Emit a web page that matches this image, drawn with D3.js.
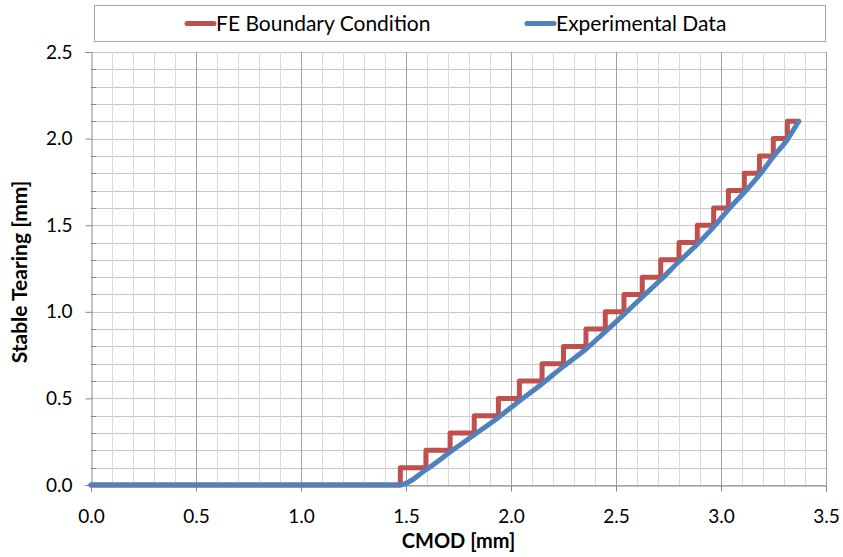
<!DOCTYPE html>
<html><head><meta charset="utf-8">
<script src="https://cdn.jsdelivr.net/npm/d3@7"></script>
<style>body{margin:0;background:#fff}svg{display:block}</style>
</head><body><svg id="c" width="843" height="557"></svg>
<script>
// Data
const seriesNames = ["FE Boundary Condition", "Experimental Data"];
// FE boundary condition: x positions of each 0.1 mm step
const feStepX = [1.473, 1.595, 1.71, 1.825, 1.94, 2.04, 2.148, 2.25, 2.357, 2.449, 2.538, 2.625, 2.713, 2.80, 2.887, 2.965, 3.035, 3.111, 3.183, 3.249, 3.316];
const feStepSize = 0.1;
const feEndX = 3.37;
// Experimental data
const expX = [0, 1.47, 1.595, 1.71, 1.825, 1.94, 2.04, 2.148, 2.25, 2.357, 2.449, 2.538, 2.625, 2.713, 2.80, 2.887, 2.965, 3.035, 3.111, 3.183, 3.249, 3.316, 3.37];
const expY = [0, 0, 0.088, 0.19, 0.29, 0.39, 0.485, 0.585, 0.685, 0.785, 0.885, 0.985, 1.085, 1.185, 1.29, 1.39, 1.49, 1.59, 1.69, 1.79, 1.895, 1.995, 2.1];
const xTicks = [0, 0.5, 1.0, 1.5, 2.0, 2.5, 3.0, 3.5];
const yTicks = [0, 0.5, 1.0, 1.5, 2.0, 2.5];

const svg = d3.select("#c");
const L = 91, R = 826, T = 52, B = 485;
const x = d3.scaleLinear().domain([0, 3.5]).range([L, R]);
const y = d3.scaleLinear().domain([0, 2.5]).range([B, T]);
const font = "Lato, 'Open Sans', sans-serif";

// grid
const minorX = d3.range(0, 36).map(i => i / 10);
const minorY = d3.range(0, 26).map(i => i / 10);
const g = svg.append("g");
g.selectAll(".hy").data(minorY).join("line")
  .attr("x1", L).attr("x2", R).attr("y1", d => Math.round(y(d)) + 0.5).attr("y2", d => Math.round(y(d)) + 0.5)
  .attr("stroke", "#c6c6c6").attr("stroke-width", 1);
g.selectAll(".vx").data(minorX.filter((d, i) => i % 5 !== 0)).join("line")
  .attr("y1", T).attr("y2", B).attr("x1", d => Math.round(x(d)) + 0.5).attr("x2", d => Math.round(x(d)) + 0.5)
  .attr("stroke", "#d9d9d9").attr("stroke-width", 1);
g.selectAll(".vX").data(xTicks.slice(1)).join("line")
  .attr("y1", T).attr("y2", B).attr("x1", d => Math.round(x(d)) + 0.5).attr("x2", d => Math.round(x(d)) + 0.5)
  .attr("stroke", "#a0a0a0").attr("stroke-width", 1);

// axes
const xAxis = svg.append("g").attr("transform", `translate(0,${Math.round(B) + 0.5})`)
  .call(d3.axisBottom(x).tickValues(xTicks).tickFormat(d3.format(".1f")).tickSize(6).tickPadding(18));
const yAxis = svg.append("g").attr("transform", `translate(${Math.round(L) + 0.5},0)`)
  .call(d3.axisLeft(y).tickValues(yTicks).tickFormat(d3.format(".1f")).tickSize(6).tickPadding(13));
[xAxis, yAxis].forEach(a => {
  a.select(".domain").attr("stroke", "#868686");
  a.selectAll(".tick line").attr("stroke", "#868686");
  a.selectAll("text").attr("font-family", font).attr("font-size", 19).attr("fill", "#000");
});
// minor y ticks inside
svg.append("g").selectAll("line").data(minorY.filter((d, i) => i % 5 !== 0)).join("line")
  .attr("x1", L).attr("x2", L + 5).attr("y1", d => Math.round(y(d)) + 0.5).attr("y2", d => Math.round(y(d)) + 0.5)
  .attr("stroke", "#868686");

// FE staircase
const fePts = [[0, 0]];
feStepX.forEach((sx, i) => {
  fePts.push([sx, i * feStepSize]);
  fePts.push([sx, (i + 1) * feStepSize]);
});
fePts.push([feEndX, feStepX.length * feStepSize]);
const line = d3.line().x(d => x(d[0])).y(d => y(d[1]));
svg.append("path").datum(fePts).attr("d", line).attr("fill", "none")
  .attr("stroke", "#c0504d").attr("stroke-width", 5).attr("stroke-linejoin", "round").attr("stroke-linecap", "round");
const expPts = expX.map((v, i) => [v, expY[i]]);
svg.append("path").datum(expPts).attr("d", line.curve(d3.curveMonotoneX)).attr("fill", "none")
  .attr("stroke", "#4f81bd").attr("stroke-width", 5).attr("stroke-linejoin", "round").attr("stroke-linecap", "round");

// titles
svg.append("text").attr("x", (L + R) / 2).attr("y", 548).attr("text-anchor", "middle")
  .attr("font-family", font).attr("font-weight", "bold").attr("font-size", 20).text("CMOD [mm]");
svg.append("text").attr("transform", `translate(27,272) rotate(-90)`).attr("text-anchor", "middle")
  .attr("font-family", font).attr("font-weight", "bold").attr("font-size", 21).text("Stable Tearing [mm]");

// legend
svg.append("rect").attr("x", 94.5).attr("y", 5.5).attr("width", 731).attr("height", 36)
  .attr("fill", "#fff").attr("stroke", "#a6a6a6");
const legColors = ["#c0504d", "#4f81bd"];
const legX = [187, 527];
seriesNames.forEach((n, i) => {
  svg.append("line").attr("x1", legX[i]).attr("x2", legX[i] + 27).attr("y1", 23.5).attr("y2", 23.5)
    .attr("stroke", legColors[i]).attr("stroke-width", 5).attr("stroke-linecap", "round");
  svg.append("text").attr("x", legX[i] + 29).attr("y", 30.5).attr("font-family", font).attr("font-size", 21).text(n);
});
</script></body></html>
